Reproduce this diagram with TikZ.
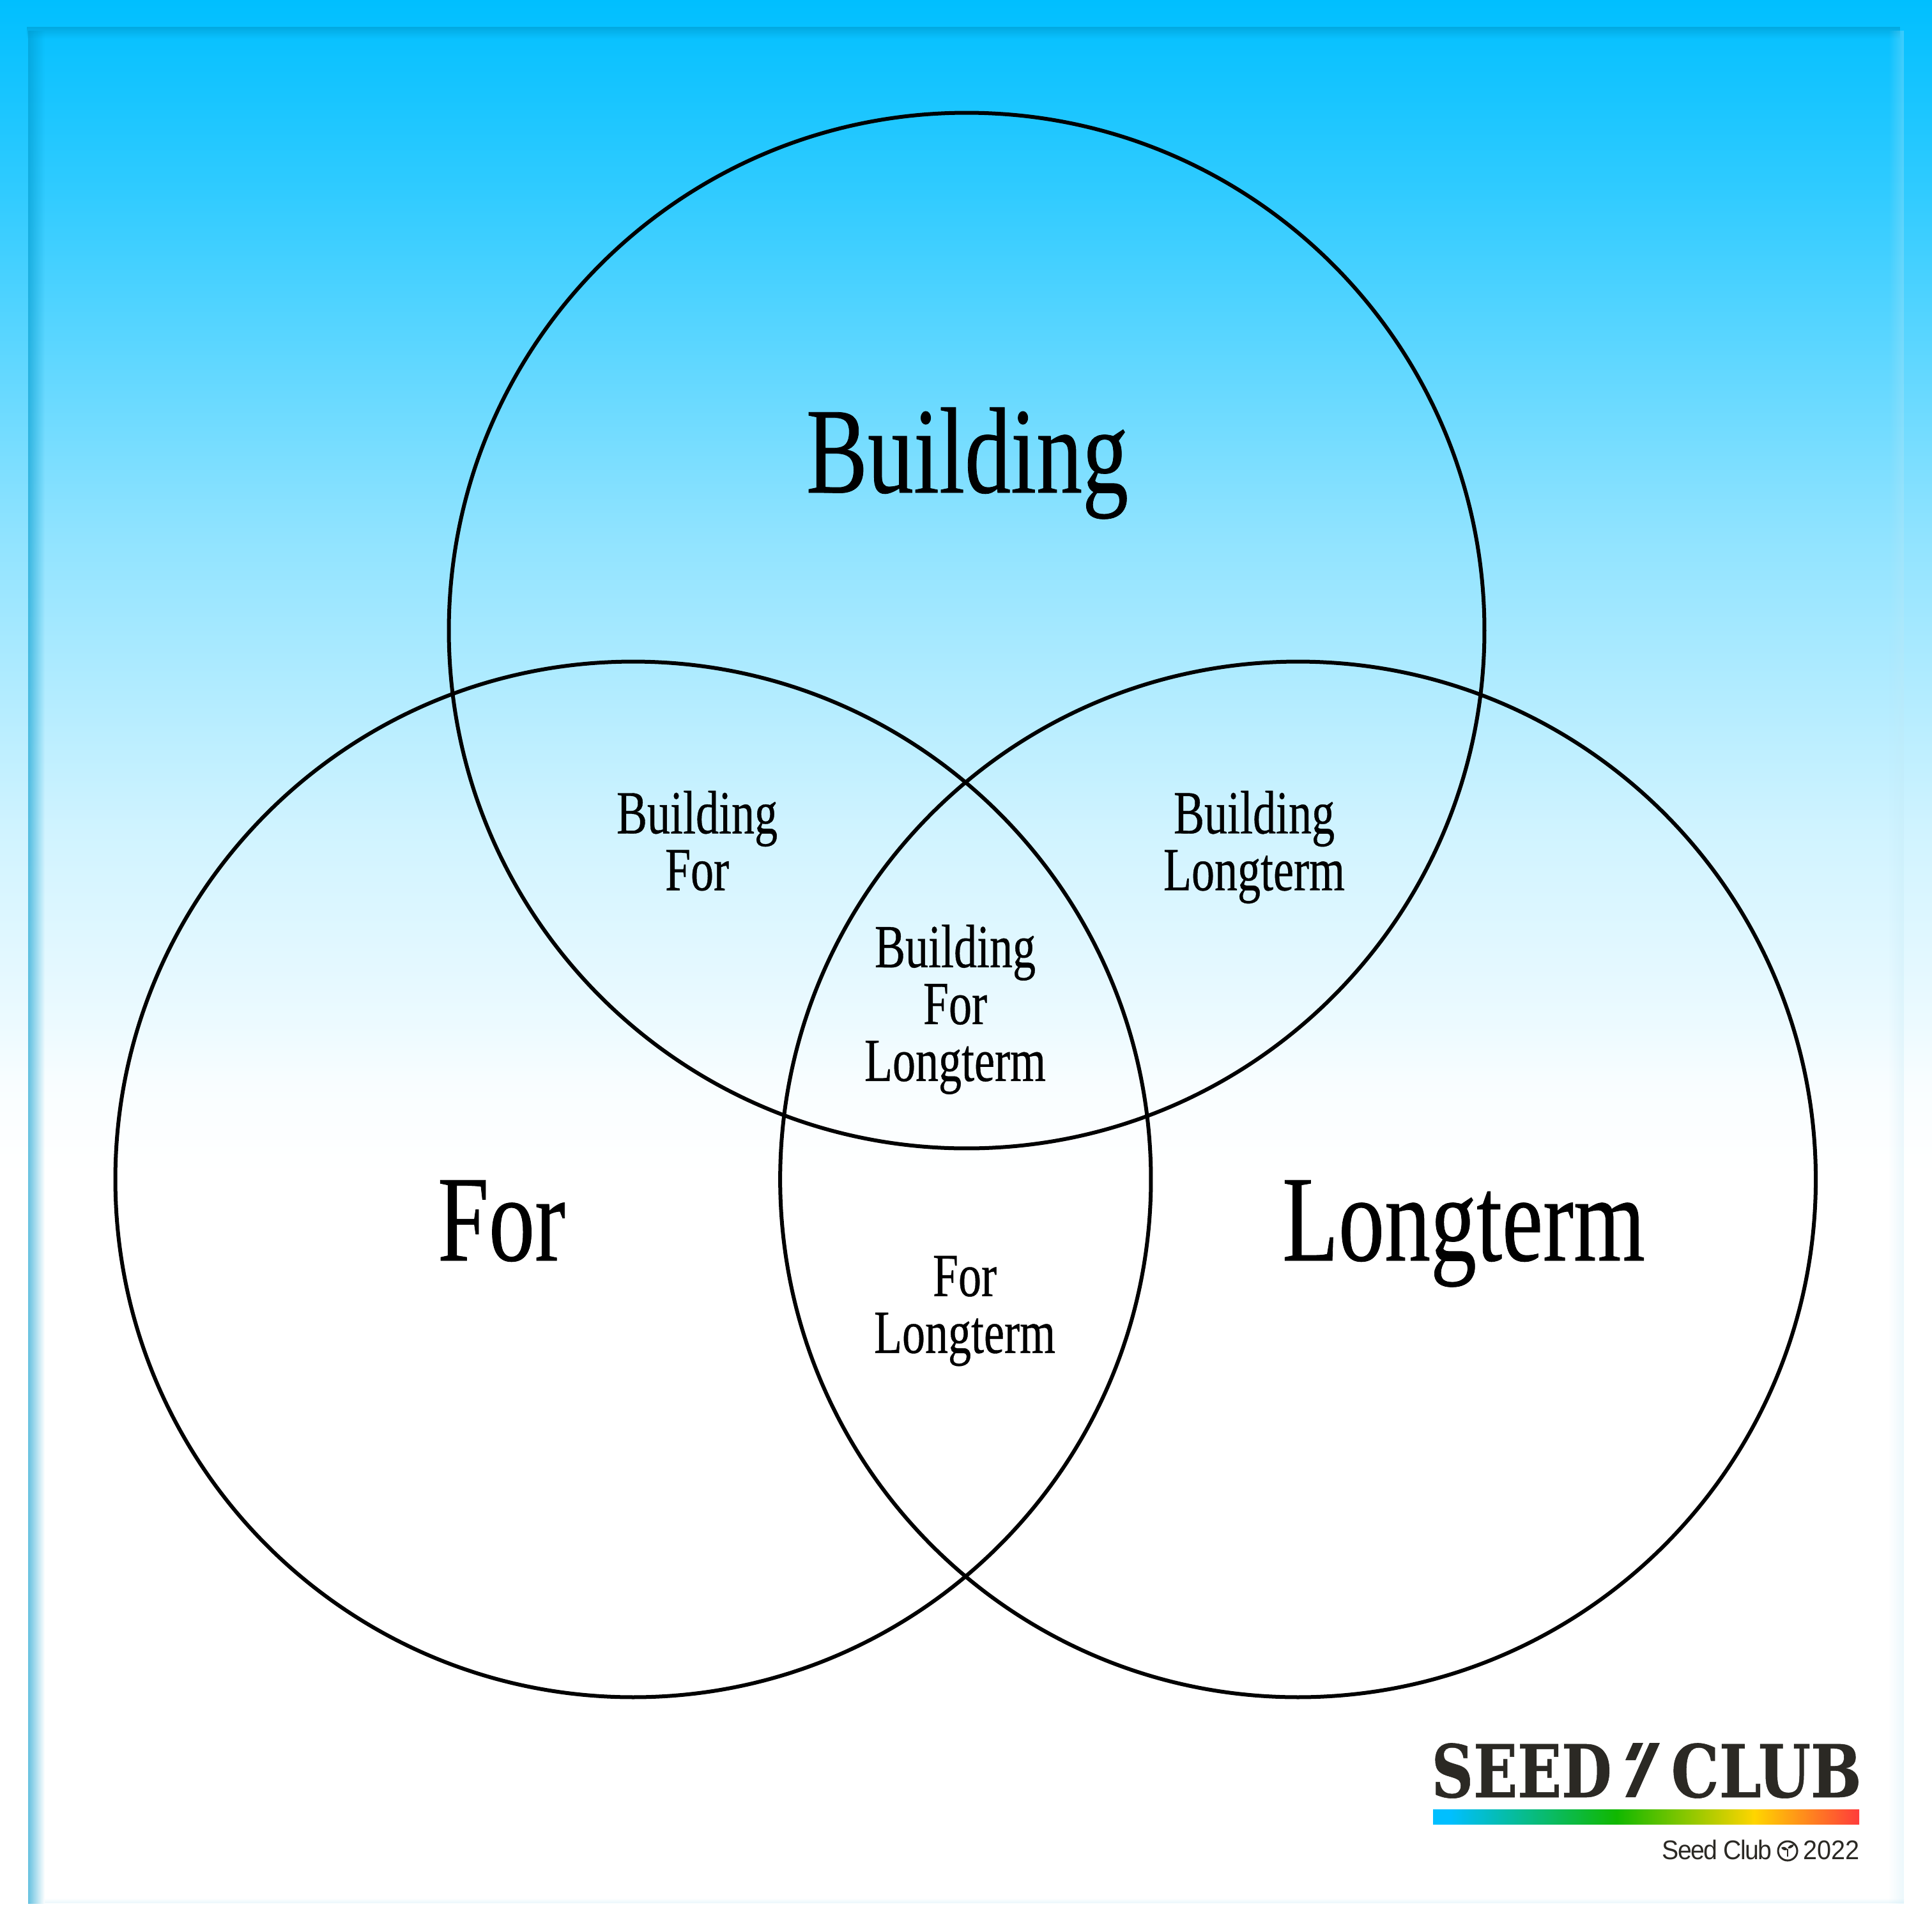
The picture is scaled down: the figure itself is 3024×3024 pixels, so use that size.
\documentclass[tikz,border=0pt]{standalone}
\usepackage{fontspec}
\usepackage{tikz}
\usetikzlibrary{positioning,fadings}

\newfontfamily\vennfont[FakeStretch=0.75,FakeBold=0.4]{Liberation Serif}
\newfontfamily\logofont[FakeStretch=0.795,FakeBold=0.5]{DejaVu Serif Bold}
\newfontfamily\clubfont[FakeStretch=0.827,FakeBold=0.5]{DejaVu Serif Bold}
\newfontfamily\creditfont[FakeStretch=0.93,LetterSpace=-4]{Liberation Sans}
\newfontfamily\yearfont[FakeStretch=0.94]{Liberation Sans}

\definecolor{skytop}{RGB}{0,191,255}
\definecolor{inkdark}{RGB}{43,41,36}
\definecolor{banddark}{RGB}{0,153,204}
\definecolor{bandpale}{RGB}{192,232,245}
\definecolor{bandfoot}{RGB}{236,248,252}
\definecolor{barblue}{RGB}{0,191,255}
\definecolor{bargreen}{RGB}{16,184,0}
\definecolor{baryellow}{RGB}{255,213,0}
\definecolor{barred}{RGB}{255,59,59}
\colorlet{skyA}{white!18.8!skytop}
\colorlet{skyB}{white!38.4!skytop}
\colorlet{skyC}{white!56.5!skytop}
\colorlet{skyD}{white!81.6!skytop}
\colorlet{skyE}{white!92.5!skytop}
\colorlet{skyF}{white!97.5!skytop}

\pgfdeclareverticalshading{skyfade}{100bp}{color(0bp)=(white); color(44.6bp)=(white); color(46.9bp)=(skyF);
	color(48.55bp)=(skyE); color(53.5bp)=(skyD); color(61.11bp)=(skyC);
	color(65.41bp)=(skyB); color(70.04bp)=(skyA); color(75bp)=(skytop); color(100bp)=(skytop)}
\pgfdeclarehorizontalshading{logobar}{100bp}{color(0bp)=(barblue); color(27bp)=(barblue);
	color(46.5bp)=(bargreen); color(62.7bp)=(baryellow); color(75bp)=(barred); color(100bp)=(barred)}

\tikzfading[name=band right, left color=transparent!0, right color=transparent!100]
\tikzfading[name=band left, left color=transparent!100, right color=transparent!0]
\tikzfading[name=band down, top color=transparent!0, bottom color=transparent!100]

\begin{document}
\begin{tikzpicture}[x=0.01cm,y=-0.01cm,node distance=10.4cm,on grid,
		ring/.style={circle,draw=black,line width=0.06cm,minimum size=16.2cm,inner sep=0pt},
		bigword/.style={anchor=base,inner sep=0pt,font=\vennfont\fontsize{54.6}{60}\selectfont},
		smallword/.style={align=center,inner sep=0pt,font=\vennfont\fontsize{27.3}{25.3}\selectfont},
		logoword/.style={anchor=base west,inner sep=0pt,text=inkdark,font=\logofont\fontsize{32.4}{36}\selectfont},
		creditword/.style={anchor=base east,inner sep=0pt,text=inkdark,font=\creditfont\fontsize{12}{14}\selectfont}]
	\useasboundingbox (0,0) rectangle (3024,3024);

	% background and the edge of the panel
	\shade[shading=skyfade] (0,0) rectangle (3024,3024);
	\shade[top color=white,bottom color=bandfoot] (70,2971) rectangle (2980,2978);
	\fill[banddark,opacity=0.6,path fading=band right] (44,42) rectangle (70,2978);
	\fill[banddark,opacity=0.6,path fading=band down] (44,42) rectangle (2980,60);
	\fill[bandpale,opacity=0.3,path fading=band left] (2956,42) rectangle (2980,2978);

	% circles
	\node[ring](ring_building) at (1513,987){};
	\node[ring](ring_for) at (991,1846){};
	\node[ring](ring_longterm)[right of=ring_for]{};

	% words
	\node[bigword](word_building) at (1514,771){Building};
	\node[bigword](word_for) at (785,1973){For};
	\node[bigword](word_longterm) at (2291,1973){Longterm};
	\node[smallword](word_bf) at (1091,1316){Building\\For};
	\node[smallword](word_bl) at (1963,1326){Building\\Longterm};
	\node[smallword](word_bfl) at (1495,1580){Building\\For\\Longterm};
	\node[smallword](word_fl) at (1510,2052){For\\Longterm};

	% logo
	\node[logoword](logo_seed) at (2240,2813){SEED};
	\node[logoword,font=\clubfont\fontsize{32.4}{36}\selectfont](logo_club) at (2615,2813){CLUB};
	\fill[inkdark] (2582,2728) -- (2598,2728) -- (2560,2813) -- (2544,2813) -- cycle;
	\fill[inkdark] (2556,2728) -- (2572,2728) -- (2560,2755) -- (2544,2755) -- cycle;
	\shade[shading=logobar] (2243,2832) rectangle (2910,2855);

	% credit line
	\node[creditword](credit_name) at (2774,2910){Seed Club};
	\node[creditword,font=\yearfont\fontsize{12}{14}\selectfont](credit_year) at (2911,2910){2022};
	\node[circle,draw=inkdark,line width=0.03cm,minimum size=0.3cm,inner sep=0pt](credit_seed) at (2798,2897){};
	\draw[inkdark,line width=0.02cm] (2798,2906) -- (2798,2894);
	\fill[inkdark] (2798,2895) .. controls (2795,2890) and (2791,2890) .. (2788,2892) .. controls (2790,2896) and (2794,2897) .. (2798,2895);
	\fill[inkdark] (2798,2893) .. controls (2800,2888) and (2804,2887) .. (2808,2887) .. controls (2807,2891) and (2803,2894) .. (2798,2893);
\end{tikzpicture}
\end{document}
